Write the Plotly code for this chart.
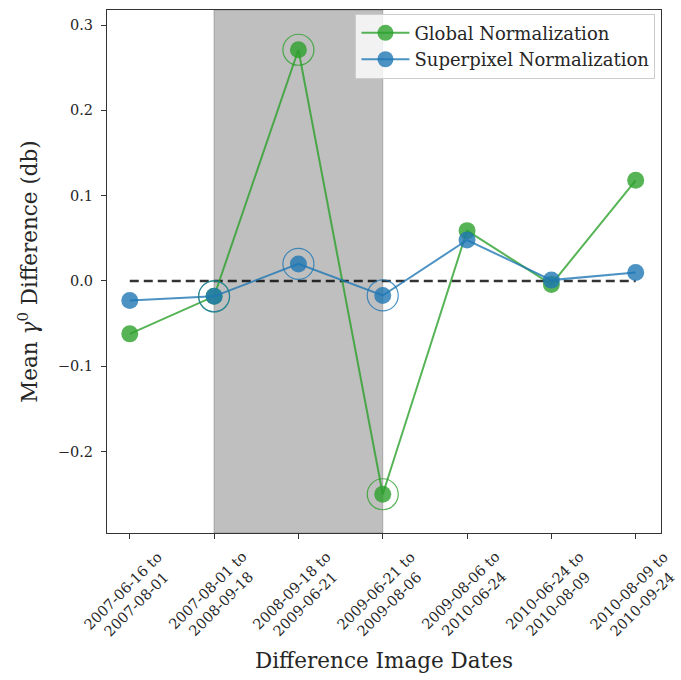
import plotly.graph_objects as go

categories = ["2007-06-16 to<br>2007-08-01", "2007-08-01 to<br>2008-09-18",
              "2008-09-18 to<br>2009-06-21", "2009-06-21 to<br>2009-08-06",
              "2009-08-06 to<br>2010-06-24", "2010-06-24 to<br>2010-08-09",
              "2010-08-09 to<br>2010-09-24"]
global_norm = [-0.062, -0.018, 0.271, -0.250, 0.059, -0.004, 0.118]
superpixel_norm = [-0.023, -0.018, 0.020, -0.017, 0.048, 0.001, 0.010]
highlight_idx = [1, 2, 3]
shade_span = [1, 3]
y_ticks = [-0.2, -0.1, 0.0, 0.1, 0.2, 0.3]
y_ticklabels = ["\u22120.2", "\u22120.1", "0.0", "0.1", "0.2", "0.3"]

x = list(range(len(categories)))
GREEN = "rgba(44,160,44,0.8)"
BLUE = "rgba(31,119,180,0.8)"
FONT = "DejaVu Serif"
TXT = "#262626"

fig = go.Figure()
fig.add_shape(type="rect", xref="x", yref="paper", x0=shade_span[0], x1=shade_span[1],
              y0=0, y1=1, fillcolor="rgba(128,128,128,0.5)",
              line=dict(width=0.8, color="rgba(110,110,110,0.6)"), layer="below")
fig.add_trace(go.Scatter(x=[x[0], x[-1]], y=[0, 0], mode="lines",
                         line=dict(color="rgba(0,0,0,0.8)", width=2.5, dash="9px,5px"),
                         showlegend=False, hoverinfo="skip"))
fig.add_trace(go.Scatter(x=x, y=global_norm, mode="lines+markers", name="Global Normalization",
                         line=dict(color=GREEN, width=2), marker=dict(color=GREEN, size=17)))
fig.add_trace(go.Scatter(x=x, y=superpixel_norm, mode="lines+markers", name="Superpixel Normalization",
                         line=dict(color=BLUE, width=2), marker=dict(color=BLUE, size=17)))
fig.add_trace(go.Scatter(x=[x[i] for i in highlight_idx], y=[global_norm[i] for i in highlight_idx],
                         mode="markers", showlegend=False,
                         marker=dict(symbol="circle-open", size=31, color=GREEN, line=dict(width=1.2, color=GREEN))))
fig.add_trace(go.Scatter(x=[x[i] for i in highlight_idx], y=[superpixel_norm[i] for i in highlight_idx],
                         mode="markers", showlegend=False,
                         marker=dict(symbol="circle-open", size=31, color=BLUE, line=dict(width=1.2, color=BLUE))))

for i, lab in enumerate(categories):
    fig.add_annotation(x=x[i], y=-0.024, xref="x", yref="paper", text=lab, showarrow=False,
                       textangle=-45, xanchor="center", yanchor="top",
                       font=dict(family=FONT, size=14.5, color=TXT))

fig.update_layout(
    width=681, height=680, plot_bgcolor="white", paper_bgcolor="white",
    margin=dict(l=107, r=20, t=10, b=147),
    font=dict(family=FONT, color=TXT),
    legend=dict(x=0.99, y=0.993, xanchor="right", yanchor="top", bgcolor="rgba(255,255,255,0.8)",
                bordercolor="#cccccc", borderwidth=1, font=dict(family=FONT, size=18, color=TXT),
                itemwidth=48, tracegroupgap=0),
    showlegend=True,
)
fig.update_xaxes(range=[-0.27, 6.3], tickvals=x, showticklabels=False, ticks="outside", ticklen=5,
                 tickcolor="#333", showline=True, linecolor="#333", linewidth=1.2, mirror=True,
                 showgrid=False, zeroline=False,
                 title=dict(text="Difference Image Dates", font=dict(family=FONT, size=21.5, color=TXT),
                            standoff=114))
fig.update_yaxes(range=[-0.2954, 0.3176], tickvals=y_ticks, ticktext=y_ticklabels,
                 ticks="outside", ticklen=5, tickcolor="#333", showline=True, linecolor="#333",
                 linewidth=1.2, mirror=True, showgrid=False, zeroline=False, ticklabelstandoff=5,
                 tickfont=dict(family=FONT, size=14.5, color=TXT),
                 title=dict(text="Mean <i>\u03b3</i><sup>0</sup> Difference (db)",
                            font=dict(family=FONT, size=21.5, color=TXT), standoff=14))
fig.write_html("out.html")
